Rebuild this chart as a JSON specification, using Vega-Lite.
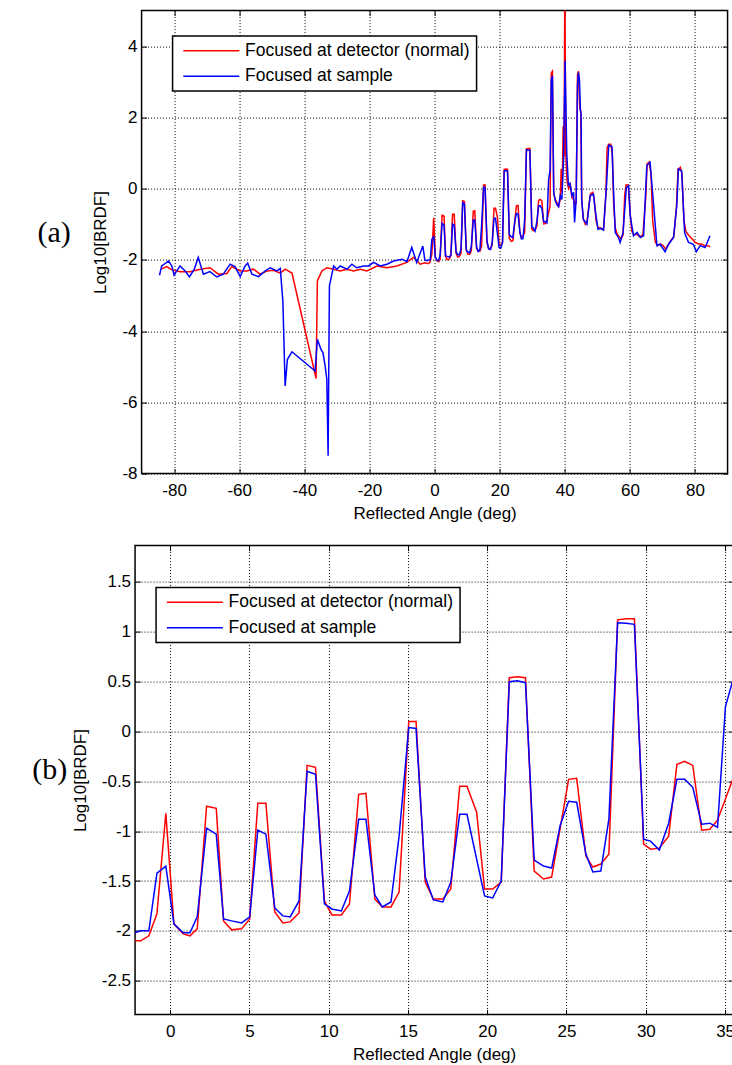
{
  "$schema": "https://vega.github.io/schema/vega-lite/v6.json",
  "background": "white",
  "padding": {"left": 30.7, "top": 8.6, "right": 0, "bottom": 0},
  "spacing": 20,
  "center": true,
  "datasets": {
    "brdf": [
      {"angle": -84.0, "value": -2.26, "series": "Focused at detector (normal)"},
      {"angle": -82.3, "value": -2.19, "series": "Focused at detector (normal)"},
      {"angle": -80.7, "value": -2.28, "series": "Focused at detector (normal)"},
      {"angle": -78.2, "value": -2.33, "series": "Focused at detector (normal)"},
      {"angle": -75.1, "value": -2.33, "series": "Focused at detector (normal)"},
      {"angle": -72.0, "value": -2.26, "series": "Focused at detector (normal)"},
      {"angle": -69.0, "value": -2.22, "series": "Focused at detector (normal)"},
      {"angle": -66.4, "value": -2.40, "series": "Focused at detector (normal)"},
      {"angle": -63.8, "value": -2.38, "series": "Focused at detector (normal)"},
      {"angle": -62.3, "value": -2.19, "series": "Focused at detector (normal)"},
      {"angle": -59.7, "value": -2.31, "series": "Focused at detector (normal)"},
      {"angle": -57.7, "value": -2.31, "series": "Focused at detector (normal)"},
      {"angle": -55.6, "value": -2.26, "series": "Focused at detector (normal)"},
      {"angle": -53.6, "value": -2.40, "series": "Focused at detector (normal)"},
      {"angle": -51.5, "value": -2.31, "series": "Focused at detector (normal)"},
      {"angle": -49.5, "value": -2.29, "series": "Focused at detector (normal)"},
      {"angle": -47.4, "value": -2.37, "series": "Focused at detector (normal)"},
      {"angle": -45.9, "value": -2.26, "series": "Focused at detector (normal)"},
      {"angle": -43.8, "value": -2.37, "series": "Focused at detector (normal)"},
      {"angle": -36.4, "value": -5.33, "series": "Focused at detector (normal)"},
      {"angle": -36.0, "value": -2.59, "series": "Focused at detector (normal)"},
      {"angle": -34.6, "value": -2.31, "series": "Focused at detector (normal)"},
      {"angle": -33.1, "value": -2.22, "series": "Focused at detector (normal)"},
      {"angle": -31.0, "value": -2.26, "series": "Focused at detector (normal)"},
      {"angle": -29.0, "value": -2.31, "series": "Focused at detector (normal)"},
      {"angle": -26.9, "value": -2.26, "series": "Focused at detector (normal)"},
      {"angle": -24.9, "value": -2.31, "series": "Focused at detector (normal)"},
      {"angle": -22.8, "value": -2.26, "series": "Focused at detector (normal)"},
      {"angle": -20.8, "value": -2.31, "series": "Focused at detector (normal)"},
      {"angle": -17.7, "value": -2.17, "series": "Focused at detector (normal)"},
      {"angle": -14.6, "value": -2.22, "series": "Focused at detector (normal)"},
      {"angle": -11.6, "value": -2.17, "series": "Focused at detector (normal)"},
      {"angle": -8.5, "value": -2.07, "series": "Focused at detector (normal)"},
      {"angle": -6.5, "value": -1.93, "series": "Focused at detector (normal)"},
      {"angle": -4.4, "value": -2.12, "series": "Focused at detector (normal)"},
      {"angle": -3.0, "value": -2.08, "series": "Focused at detector (normal)"},
      {"angle": -2.23, "value": -2.1, "series": "Focused at detector (normal)"},
      {"angle": -1.85, "value": -2.1, "series": "Focused at detector (normal)"},
      {"angle": -1.34, "value": -2.05, "series": "Focused at detector (normal)"},
      {"angle": -0.83, "value": -1.83, "series": "Focused at detector (normal)"},
      {"angle": -0.27, "value": -0.82, "series": "Focused at detector (normal)"},
      {"angle": 0.24, "value": -1.93, "series": "Focused at detector (normal)"},
      {"angle": 0.82, "value": -2.03, "series": "Focused at detector (normal)"},
      {"angle": 1.25, "value": -2.05, "series": "Focused at detector (normal)"},
      {"angle": 1.71, "value": -1.98, "series": "Focused at detector (normal)"},
      {"angle": 2.3, "value": -0.75, "series": "Focused at detector (normal)"},
      {"angle": 2.91, "value": -0.77, "series": "Focused at detector (normal)"},
      {"angle": 3.37, "value": -1.9, "series": "Focused at detector (normal)"},
      {"angle": 3.88, "value": -1.99, "series": "Focused at detector (normal)"},
      {"angle": 4.51, "value": -1.98, "series": "Focused at detector (normal)"},
      {"angle": 5.02, "value": -1.88, "series": "Focused at detector (normal)"},
      {"angle": 5.53, "value": -0.72, "series": "Focused at detector (normal)"},
      {"angle": 6.04, "value": -0.72, "series": "Focused at detector (normal)"},
      {"angle": 6.6, "value": -1.81, "series": "Focused at detector (normal)"},
      {"angle": 7.11, "value": -1.92, "series": "Focused at detector (normal)"},
      {"angle": 7.57, "value": -1.91, "series": "Focused at detector (normal)"},
      {"angle": 8.13, "value": -1.82, "series": "Focused at detector (normal)"},
      {"angle": 8.64, "value": -0.34, "series": "Focused at detector (normal)"},
      {"angle": 9.17, "value": -0.36, "series": "Focused at detector (normal)"},
      {"angle": 9.73, "value": -1.7, "series": "Focused at detector (normal)"},
      {"angle": 10.2, "value": -1.84, "series": "Focused at detector (normal)"},
      {"angle": 10.8, "value": -1.84, "series": "Focused at detector (normal)"},
      {"angle": 11.31, "value": -1.73, "series": "Focused at detector (normal)"},
      {"angle": 11.89, "value": -0.63, "series": "Focused at detector (normal)"},
      {"angle": 12.35, "value": -0.62, "series": "Focused at detector (normal)"},
      {"angle": 12.91, "value": -1.68, "series": "Focused at detector (normal)"},
      {"angle": 13.38, "value": -1.76, "series": "Focused at detector (normal)"},
      {"angle": 13.93, "value": -1.76, "series": "Focused at detector (normal)"},
      {"angle": 14.44, "value": -1.61, "series": "Focused at detector (normal)"},
      {"angle": 15.05, "value": 0.1, "series": "Focused at detector (normal)"},
      {"angle": 15.51, "value": 0.1, "series": "Focused at detector (normal)"},
      {"angle": 16.09, "value": -1.51, "series": "Focused at detector (normal)"},
      {"angle": 16.6, "value": -1.68, "series": "Focused at detector (normal)"},
      {"angle": 17.2, "value": -1.68, "series": "Focused at detector (normal)"},
      {"angle": 17.7, "value": -1.58, "series": "Focused at detector (normal)"},
      {"angle": 18.26, "value": -0.55, "series": "Focused at detector (normal)"},
      {"angle": 18.72, "value": -0.55, "series": "Focused at detector (normal)"},
      {"angle": 19.33, "value": -0.81, "series": "Focused at detector (normal)"},
      {"angle": 19.83, "value": -1.58, "series": "Focused at detector (normal)"},
      {"angle": 20.34, "value": -1.58, "series": "Focused at detector (normal)"},
      {"angle": 20.88, "value": -1.51, "series": "Focused at detector (normal)"},
      {"angle": 21.39, "value": 0.54, "series": "Focused at detector (normal)"},
      {"angle": 21.9, "value": 0.55, "series": "Focused at detector (normal)"},
      {"angle": 22.41, "value": 0.54, "series": "Focused at detector (normal)"},
      {"angle": 22.96, "value": -1.4, "series": "Focused at detector (normal)"},
      {"angle": 23.55, "value": -1.48, "series": "Focused at detector (normal)"},
      {"angle": 24.06, "value": -1.46, "series": "Focused at detector (normal)"},
      {"angle": 24.6, "value": -0.97, "series": "Focused at detector (normal)"},
      {"angle": 25.13, "value": -0.48, "series": "Focused at detector (normal)"},
      {"angle": 25.64, "value": -0.47, "series": "Focused at detector (normal)"},
      {"angle": 26.22, "value": -1.25, "series": "Focused at detector (normal)"},
      {"angle": 26.66, "value": -1.36, "series": "Focused at detector (normal)"},
      {"angle": 27.16, "value": -1.33, "series": "Focused at detector (normal)"},
      {"angle": 27.67, "value": -1.23, "series": "Focused at detector (normal)"},
      {"angle": 28.22, "value": 1.12, "series": "Focused at detector (normal)"},
      {"angle": 28.75, "value": 1.13, "series": "Focused at detector (normal)"},
      {"angle": 29.28, "value": 1.13, "series": "Focused at detector (normal)"},
      {"angle": 29.86, "value": -1.13, "series": "Focused at detector (normal)"},
      {"angle": 30.3, "value": -1.18, "series": "Focused at detector (normal)"},
      {"angle": 30.85, "value": -1.17, "series": "Focused at detector (normal)"},
      {"angle": 31.44, "value": -1.05, "series": "Focused at detector (normal)"},
      {"angle": 31.96, "value": -0.33, "series": "Focused at detector (normal)"},
      {"angle": 32.45, "value": -0.3, "series": "Focused at detector (normal)"},
      {"angle": 32.96, "value": -0.34, "series": "Focused at detector (normal)"},
      {"angle": 33.52, "value": -0.99, "series": "Focused at detector (normal)"},
      {"angle": 34.03, "value": -0.98, "series": "Focused at detector (normal)"},
      {"angle": 34.52, "value": -0.89, "series": "Focused at detector (normal)"},
      {"angle": 35.48, "value": -0.48, "series": "Focused at detector (normal)"},
      {"angle": 35.85, "value": 3.25, "series": "Focused at detector (normal)"},
      {"angle": 36.2, "value": 3.3, "series": "Focused at detector (normal)"},
      {"angle": 36.6, "value": -0.15, "series": "Focused at detector (normal)"},
      {"angle": 37.1, "value": -0.3, "series": "Focused at detector (normal)"},
      {"angle": 37.6, "value": -0.4, "series": "Focused at detector (normal)"},
      {"angle": 38.1, "value": -0.5, "series": "Focused at detector (normal)"},
      {"angle": 38.6, "value": -0.3, "series": "Focused at detector (normal)"},
      {"angle": 38.9, "value": 0.55, "series": "Focused at detector (normal)"},
      {"angle": 39.2, "value": -0.1, "series": "Focused at detector (normal)"},
      {"angle": 39.5, "value": 1.75, "series": "Focused at detector (normal)"},
      {"angle": 39.8, "value": 0.9, "series": "Focused at detector (normal)"},
      {"angle": 40.0, "value": 6.0, "series": "Focused at detector (normal)"},
      {"angle": 40.3, "value": 1.0, "series": "Focused at detector (normal)"},
      {"angle": 40.7, "value": 0.2, "series": "Focused at detector (normal)"},
      {"angle": 41.2, "value": 0.0, "series": "Focused at detector (normal)"},
      {"angle": 41.7, "value": 0.1, "series": "Focused at detector (normal)"},
      {"angle": 42.2, "value": -0.25, "series": "Focused at detector (normal)"},
      {"angle": 42.7, "value": -0.3, "series": "Focused at detector (normal)"},
      {"angle": 43.1, "value": -0.45, "series": "Focused at detector (normal)"},
      {"angle": 43.5, "value": -0.4, "series": "Focused at detector (normal)"},
      {"angle": 43.9, "value": 3.2, "series": "Focused at detector (normal)"},
      {"angle": 44.2, "value": 3.3, "series": "Focused at detector (normal)"},
      {"angle": 44.6, "value": 2.25, "series": "Focused at detector (normal)"},
      {"angle": 44.9, "value": 2.2, "series": "Focused at detector (normal)"},
      {"angle": 45.2, "value": -0.35, "series": "Focused at detector (normal)"},
      {"angle": 45.7, "value": -0.85, "series": "Focused at detector (normal)"},
      {"angle": 46.3, "value": -1.0, "series": "Focused at detector (normal)"},
      {"angle": 46.8, "value": -0.95, "series": "Focused at detector (normal)"},
      {"angle": 47.5, "value": -0.4, "series": "Focused at detector (normal)"},
      {"angle": 47.9, "value": -0.15, "series": "Focused at detector (normal)"},
      {"angle": 48.6, "value": -0.1, "series": "Focused at detector (normal)"},
      {"angle": 49.1, "value": -0.35, "series": "Focused at detector (normal)"},
      {"angle": 49.6, "value": -0.9, "series": "Focused at detector (normal)"},
      {"angle": 50.2, "value": -1.1, "series": "Focused at detector (normal)"},
      {"angle": 51.0, "value": -1.1, "series": "Focused at detector (normal)"},
      {"angle": 51.9, "value": -1.15, "series": "Focused at detector (normal)"},
      {"angle": 52.6, "value": -0.2, "series": "Focused at detector (normal)"},
      {"angle": 53.0, "value": 1.15, "series": "Focused at detector (normal)"},
      {"angle": 53.5, "value": 1.25, "series": "Focused at detector (normal)"},
      {"angle": 54.1, "value": 1.25, "series": "Focused at detector (normal)"},
      {"angle": 54.6, "value": 1.0, "series": "Focused at detector (normal)"},
      {"angle": 55.0, "value": -0.4, "series": "Focused at detector (normal)"},
      {"angle": 55.5, "value": -1.1, "series": "Focused at detector (normal)"},
      {"angle": 56.2, "value": -1.3, "series": "Focused at detector (normal)"},
      {"angle": 56.7, "value": -1.35, "series": "Focused at detector (normal)"},
      {"angle": 57.3, "value": -1.4, "series": "Focused at detector (normal)"},
      {"angle": 57.9, "value": -1.3, "series": "Focused at detector (normal)"},
      {"angle": 58.4, "value": -0.2, "series": "Focused at detector (normal)"},
      {"angle": 58.8, "value": 0.1, "series": "Focused at detector (normal)"},
      {"angle": 59.5, "value": 0.1, "series": "Focused at detector (normal)"},
      {"angle": 60.0, "value": -0.6, "series": "Focused at detector (normal)"},
      {"angle": 60.6, "value": -1.2, "series": "Focused at detector (normal)"},
      {"angle": 61.3, "value": -1.3, "series": "Focused at detector (normal)"},
      {"angle": 62.2, "value": -1.28, "series": "Focused at detector (normal)"},
      {"angle": 63.0, "value": -1.35, "series": "Focused at detector (normal)"},
      {"angle": 64.0, "value": -1.3, "series": "Focused at detector (normal)"},
      {"angle": 64.9, "value": -0.2, "series": "Focused at detector (normal)"},
      {"angle": 65.3, "value": 0.7, "series": "Focused at detector (normal)"},
      {"angle": 65.9, "value": 0.75, "series": "Focused at detector (normal)"},
      {"angle": 66.5, "value": 0.4, "series": "Focused at detector (normal)"},
      {"angle": 67.0, "value": -0.9, "series": "Focused at detector (normal)"},
      {"angle": 67.8, "value": -1.5, "series": "Focused at detector (normal)"},
      {"angle": 68.5, "value": -1.6, "series": "Focused at detector (normal)"},
      {"angle": 69.3, "value": -1.55, "series": "Focused at detector (normal)"},
      {"angle": 70.2, "value": -1.6, "series": "Focused at detector (normal)"},
      {"angle": 71.0, "value": -1.7, "series": "Focused at detector (normal)"},
      {"angle": 71.9, "value": -1.55, "series": "Focused at detector (normal)"},
      {"angle": 72.6, "value": -1.45, "series": "Focused at detector (normal)"},
      {"angle": 73.5, "value": -1.35, "series": "Focused at detector (normal)"},
      {"angle": 74.3, "value": -0.5, "series": "Focused at detector (normal)"},
      {"angle": 74.8, "value": 0.55, "series": "Focused at detector (normal)"},
      {"angle": 75.5, "value": 0.6, "series": "Focused at detector (normal)"},
      {"angle": 76.0, "value": 0.4, "series": "Focused at detector (normal)"},
      {"angle": 76.6, "value": -0.9, "series": "Focused at detector (normal)"},
      {"angle": 77.2, "value": -1.2, "series": "Focused at detector (normal)"},
      {"angle": 78.0, "value": -1.3, "series": "Focused at detector (normal)"},
      {"angle": 79.0, "value": -1.4, "series": "Focused at detector (normal)"},
      {"angle": 80.0, "value": -1.5, "series": "Focused at detector (normal)"},
      {"angle": 81.0, "value": -1.55, "series": "Focused at detector (normal)"},
      {"angle": 82.0, "value": -1.55, "series": "Focused at detector (normal)"},
      {"angle": 83.0, "value": -1.6, "series": "Focused at detector (normal)"},
      {"angle": 84.0, "value": -1.6, "series": "Focused at detector (normal)"},
      {"angle": 84.6, "value": -1.63, "series": "Focused at detector (normal)"},

      {"angle": -84.5, "value": -2.43, "series": "Focused at sample"},
      {"angle": -83.8, "value": -2.17, "series": "Focused at sample"},
      {"angle": -81.7, "value": -2.03, "series": "Focused at sample"},
      {"angle": -80.7, "value": -2.17, "series": "Focused at sample"},
      {"angle": -80.0, "value": -2.43, "series": "Focused at sample"},
      {"angle": -78.2, "value": -2.17, "series": "Focused at sample"},
      {"angle": -76.6, "value": -2.31, "series": "Focused at sample"},
      {"angle": -75.3, "value": -2.48, "series": "Focused at sample"},
      {"angle": -73.8, "value": -2.26, "series": "Focused at sample"},
      {"angle": -72.6, "value": -1.93, "series": "Focused at sample"},
      {"angle": -71.0, "value": -2.40, "series": "Focused at sample"},
      {"angle": -69.0, "value": -2.33, "series": "Focused at sample"},
      {"angle": -66.9, "value": -2.48, "series": "Focused at sample"},
      {"angle": -64.9, "value": -2.40, "series": "Focused at sample"},
      {"angle": -62.8, "value": -2.12, "series": "Focused at sample"},
      {"angle": -61.3, "value": -2.19, "series": "Focused at sample"},
      {"angle": -59.7, "value": -2.47, "series": "Focused at sample"},
      {"angle": -58.2, "value": -2.17, "series": "Focused at sample"},
      {"angle": -57.4, "value": -2.09, "series": "Focused at sample"},
      {"angle": -56.1, "value": -2.40, "series": "Focused at sample"},
      {"angle": -54.1, "value": -2.47, "series": "Focused at sample"},
      {"angle": -52.0, "value": -2.31, "series": "Focused at sample"},
      {"angle": -50.5, "value": -2.22, "series": "Focused at sample"},
      {"angle": -48.4, "value": -2.31, "series": "Focused at sample"},
      {"angle": -47.4, "value": -2.24, "series": "Focused at sample"},
      {"angle": -46.6, "value": -3.15, "series": "Focused at sample"},
      {"angle": -45.9, "value": -5.54, "series": "Focused at sample"},
      {"angle": -45.2, "value": -4.79, "series": "Focused at sample"},
      {"angle": -43.8, "value": -4.58, "series": "Focused at sample"},
      {"angle": -36.7, "value": -5.12, "series": "Focused at sample"},
      {"angle": -36.0, "value": -4.23, "series": "Focused at sample"},
      {"angle": -34.9, "value": -4.51, "series": "Focused at sample"},
      {"angle": -34.3, "value": -4.60, "series": "Focused at sample"},
      {"angle": -33.6, "value": -4.98, "series": "Focused at sample"},
      {"angle": -33.1, "value": -5.35, "series": "Focused at sample"},
      {"angle": -32.7, "value": -7.50, "series": "Focused at sample"},
      {"angle": -32.3, "value": -2.73, "series": "Focused at sample"},
      {"angle": -31.0, "value": -2.17, "series": "Focused at sample"},
      {"angle": -30.0, "value": -2.26, "series": "Focused at sample"},
      {"angle": -29.0, "value": -2.17, "series": "Focused at sample"},
      {"angle": -26.9, "value": -2.26, "series": "Focused at sample"},
      {"angle": -25.4, "value": -2.12, "series": "Focused at sample"},
      {"angle": -23.9, "value": -2.22, "series": "Focused at sample"},
      {"angle": -21.8, "value": -2.17, "series": "Focused at sample"},
      {"angle": -20.3, "value": -2.17, "series": "Focused at sample"},
      {"angle": -18.7, "value": -2.07, "series": "Focused at sample"},
      {"angle": -16.7, "value": -2.17, "series": "Focused at sample"},
      {"angle": -14.6, "value": -2.12, "series": "Focused at sample"},
      {"angle": -12.6, "value": -2.03, "series": "Focused at sample"},
      {"angle": -10.0, "value": -1.98, "series": "Focused at sample"},
      {"angle": -8.5, "value": -2.05, "series": "Focused at sample"},
      {"angle": -7.0, "value": -1.65, "series": "Focused at sample"},
      {"angle": -5.5, "value": -2.07, "series": "Focused at sample"},
      {"angle": -3.6, "value": -1.61, "series": "Focused at sample"},
      {"angle": -3.0, "value": -2.0, "series": "Focused at sample"},
      {"angle": -2.23, "value": -2.02, "series": "Focused at sample"},
      {"angle": -1.85, "value": -2.0, "series": "Focused at sample"},
      {"angle": -1.34, "value": -2.0, "series": "Focused at sample"},
      {"angle": -0.83, "value": -1.42, "series": "Focused at sample"},
      {"angle": -0.27, "value": -1.35, "series": "Focused at sample"},
      {"angle": 0.24, "value": -1.93, "series": "Focused at sample"},
      {"angle": 0.82, "value": -2.02, "series": "Focused at sample"},
      {"angle": 1.25, "value": -2.02, "series": "Focused at sample"},
      {"angle": 1.71, "value": -1.86, "series": "Focused at sample"},
      {"angle": 2.3, "value": -0.97, "series": "Focused at sample"},
      {"angle": 2.91, "value": -1.03, "series": "Focused at sample"},
      {"angle": 3.37, "value": -1.88, "series": "Focused at sample"},
      {"angle": 3.88, "value": -1.9, "series": "Focused at sample"},
      {"angle": 4.51, "value": -1.92, "series": "Focused at sample"},
      {"angle": 5.02, "value": -1.86, "series": "Focused at sample"},
      {"angle": 5.53, "value": -0.99, "series": "Focused at sample"},
      {"angle": 6.04, "value": -1.03, "series": "Focused at sample"},
      {"angle": 6.6, "value": -1.77, "series": "Focused at sample"},
      {"angle": 7.11, "value": -1.85, "series": "Focused at sample"},
      {"angle": 7.57, "value": -1.86, "series": "Focused at sample"},
      {"angle": 8.13, "value": -1.7, "series": "Focused at sample"},
      {"angle": 8.64, "value": -0.4, "series": "Focused at sample"},
      {"angle": 9.17, "value": -0.43, "series": "Focused at sample"},
      {"angle": 9.73, "value": -1.73, "series": "Focused at sample"},
      {"angle": 10.2, "value": -1.78, "series": "Focused at sample"},
      {"angle": 10.8, "value": -1.8, "series": "Focused at sample"},
      {"angle": 11.31, "value": -1.6, "series": "Focused at sample"},
      {"angle": 11.89, "value": -0.88, "series": "Focused at sample"},
      {"angle": 12.35, "value": -0.88, "series": "Focused at sample"},
      {"angle": 12.91, "value": -1.64, "series": "Focused at sample"},
      {"angle": 13.38, "value": -1.76, "series": "Focused at sample"},
      {"angle": 13.93, "value": -1.71, "series": "Focused at sample"},
      {"angle": 14.44, "value": -1.05, "series": "Focused at sample"},
      {"angle": 15.05, "value": 0.04, "series": "Focused at sample"},
      {"angle": 15.51, "value": 0.03, "series": "Focused at sample"},
      {"angle": 16.09, "value": -1.46, "series": "Focused at sample"},
      {"angle": 16.6, "value": -1.69, "series": "Focused at sample"},
      {"angle": 17.2, "value": -1.71, "series": "Focused at sample"},
      {"angle": 17.7, "value": -1.51, "series": "Focused at sample"},
      {"angle": 18.26, "value": -0.83, "series": "Focused at sample"},
      {"angle": 18.72, "value": -0.83, "series": "Focused at sample"},
      {"angle": 19.83, "value": -1.65, "series": "Focused at sample"},
      {"angle": 20.34, "value": -1.67, "series": "Focused at sample"},
      {"angle": 20.88, "value": -1.5, "series": "Focused at sample"},
      {"angle": 21.39, "value": 0.5, "series": "Focused at sample"},
      {"angle": 21.9, "value": 0.51, "series": "Focused at sample"},
      {"angle": 22.41, "value": 0.49, "series": "Focused at sample"},
      {"angle": 22.96, "value": -1.29, "series": "Focused at sample"},
      {"angle": 23.55, "value": -1.35, "series": "Focused at sample"},
      {"angle": 24.06, "value": -1.37, "series": "Focused at sample"},
      {"angle": 24.6, "value": -0.94, "series": "Focused at sample"},
      {"angle": 25.13, "value": -0.7, "series": "Focused at sample"},
      {"angle": 25.64, "value": -0.71, "series": "Focused at sample"},
      {"angle": 26.22, "value": -1.23, "series": "Focused at sample"},
      {"angle": 26.66, "value": -1.41, "series": "Focused at sample"},
      {"angle": 27.16, "value": -1.4, "series": "Focused at sample"},
      {"angle": 27.67, "value": -0.88, "series": "Focused at sample"},
      {"angle": 28.22, "value": 1.09, "series": "Focused at sample"},
      {"angle": 28.75, "value": 1.085, "series": "Focused at sample"},
      {"angle": 29.28, "value": 1.075, "series": "Focused at sample"},
      {"angle": 29.86, "value": -1.08, "series": "Focused at sample"},
      {"angle": 30.3, "value": -1.1, "series": "Focused at sample"},
      {"angle": 30.85, "value": -1.19, "series": "Focused at sample"},
      {"angle": 31.44, "value": -0.92, "series": "Focused at sample"},
      {"angle": 31.96, "value": -0.48, "series": "Focused at sample"},
      {"angle": 32.45, "value": -0.48, "series": "Focused at sample"},
      {"angle": 32.96, "value": -0.56, "series": "Focused at sample"},
      {"angle": 33.52, "value": -0.93, "series": "Focused at sample"},
      {"angle": 34.03, "value": -0.92, "series": "Focused at sample"},
      {"angle": 34.52, "value": -0.96, "series": "Focused at sample"},
      {"angle": 35.02, "value": 0.25, "series": "Focused at sample"},
      {"angle": 35.48, "value": 0.51, "series": "Focused at sample"},
      {"angle": 35.85, "value": 3.05, "series": "Focused at sample"},
      {"angle": 36.2, "value": 3.17, "series": "Focused at sample"},
      {"angle": 36.6, "value": -0.1, "series": "Focused at sample"},
      {"angle": 37.1, "value": -0.35, "series": "Focused at sample"},
      {"angle": 37.6, "value": -0.45, "series": "Focused at sample"},
      {"angle": 38.1, "value": -0.5, "series": "Focused at sample"},
      {"angle": 38.6, "value": -0.2, "series": "Focused at sample"},
      {"angle": 39.1, "value": -0.3, "series": "Focused at sample"},
      {"angle": 39.6, "value": 0.8, "series": "Focused at sample"},
      {"angle": 40.1, "value": 3.59, "series": "Focused at sample"},
      {"angle": 40.6, "value": 1.0, "series": "Focused at sample"},
      {"angle": 41.1, "value": 0.1, "series": "Focused at sample"},
      {"angle": 41.6, "value": 0.15, "series": "Focused at sample"},
      {"angle": 42.2, "value": -0.2, "series": "Focused at sample"},
      {"angle": 42.7, "value": -0.1, "series": "Focused at sample"},
      {"angle": 43.0, "value": -0.95, "series": "Focused at sample"},
      {"angle": 43.5, "value": -0.3, "series": "Focused at sample"},
      {"angle": 43.9, "value": 2.9, "series": "Focused at sample"},
      {"angle": 44.2, "value": 3.26, "series": "Focused at sample"},
      {"angle": 44.5, "value": 3.07, "series": "Focused at sample"},
      {"angle": 44.8, "value": 2.2, "series": "Focused at sample"},
      {"angle": 45.0, "value": 2.1, "series": "Focused at sample"},
      {"angle": 45.2, "value": -0.3, "series": "Focused at sample"},
      {"angle": 45.7, "value": -0.86, "series": "Focused at sample"},
      {"angle": 46.8, "value": -1.0, "series": "Focused at sample"},
      {"angle": 47.8, "value": -0.2, "series": "Focused at sample"},
      {"angle": 48.8, "value": -0.15, "series": "Focused at sample"},
      {"angle": 49.3, "value": -0.57, "series": "Focused at sample"},
      {"angle": 50.2, "value": -1.14, "series": "Focused at sample"},
      {"angle": 51.0, "value": -1.12, "series": "Focused at sample"},
      {"angle": 51.9, "value": -1.16, "series": "Focused at sample"},
      {"angle": 52.8, "value": 0.08, "series": "Focused at sample"},
      {"angle": 53.5, "value": 1.22, "series": "Focused at sample"},
      {"angle": 54.5, "value": 1.18, "series": "Focused at sample"},
      {"angle": 55.0, "value": -0.11, "series": "Focused at sample"},
      {"angle": 55.5, "value": -1.23, "series": "Focused at sample"},
      {"angle": 56.5, "value": -1.37, "series": "Focused at sample"},
      {"angle": 57.0, "value": -1.51, "series": "Focused at sample"},
      {"angle": 57.9, "value": -1.23, "series": "Focused at sample"},
      {"angle": 58.9, "value": 0.03, "series": "Focused at sample"},
      {"angle": 59.6, "value": 0.08, "series": "Focused at sample"},
      {"angle": 60.1, "value": -0.76, "series": "Focused at sample"},
      {"angle": 61.1, "value": -1.32, "series": "Focused at sample"},
      {"angle": 62.2, "value": -1.23, "series": "Focused at sample"},
      {"angle": 63.2, "value": -1.37, "series": "Focused at sample"},
      {"angle": 64.2, "value": -1.32, "series": "Focused at sample"},
      {"angle": 65.2, "value": 0.65, "series": "Focused at sample"},
      {"angle": 66.2, "value": 0.74, "series": "Focused at sample"},
      {"angle": 67.3, "value": -0.48, "series": "Focused at sample"},
      {"angle": 68.3, "value": -1.6, "series": "Focused at sample"},
      {"angle": 69.3, "value": -1.56, "series": "Focused at sample"},
      {"angle": 70.8, "value": -1.77, "series": "Focused at sample"},
      {"angle": 71.9, "value": -1.56, "series": "Focused at sample"},
      {"angle": 73.4, "value": -1.37, "series": "Focused at sample"},
      {"angle": 74.4, "value": -0.48, "series": "Focused at sample"},
      {"angle": 74.9, "value": 0.55, "series": "Focused at sample"},
      {"angle": 75.9, "value": 0.5, "series": "Focused at sample"},
      {"angle": 76.8, "value": -1.23, "series": "Focused at sample"},
      {"angle": 78.0, "value": -1.51, "series": "Focused at sample"},
      {"angle": 79.5, "value": -1.56, "series": "Focused at sample"},
      {"angle": 80.4, "value": -1.77, "series": "Focused at sample"},
      {"angle": 81.6, "value": -1.6, "series": "Focused at sample"},
      {"angle": 83.1, "value": -1.65, "series": "Focused at sample"},
      {"angle": 84.6, "value": -1.32, "series": "Focused at sample"}
    ]
  },
  "vconcat": [
    {
      "title": {"text": "(a)", "orient": "left", "angle": 0, "align": "right", "baseline": "middle", "anchor": "middle", "offset": -12.2, "dy": -9, "font": "Liberation Serif", "fontSize": 30, "fontWeight": "normal", "color": "#000"},
      "width": 586,
      "height": 463,
      "data": {"name": "brdf"},
      "layer": [
        {
          "mark": {"type": "line", "strokeWidth": 1.5, "clip": true},
          "encoding": {
            "x": {"field": "angle", "type": "quantitative", "scale": {"domain": [-90, 90], "nice": false, "zero": false},
                  "axis": {"values": [-80, -60, -40, -20, 0, 20, 40, 60, 80], "title": "Reflected Angle (deg)", "format": "d"}},
            "y": {"field": "value", "type": "quantitative", "scale": {"domain": [-8, 5], "nice": false, "zero": false},
                  "axis": {"values": [-8, -6, -4, -2, 0, 2, 4], "title": "Log10[BRDF]", "format": "d"}},
            "color": {"field": "series", "type": "nominal",
                      "scale": {"domain": ["Focused at detector (normal)", "Focused at sample"], "range": ["#ff0000", "#0000ff"]},
                      "legend": {"title": null, "orient": "none", "legendX": 31, "legendY": 25.5}}
          }
        },
        {
          "mark": {"type": "point", "opacity": 0, "clip": true},
          "encoding": {
            "x": {"field": "angle", "type": "quantitative", "axis": {"orient": "top", "values": [-80, -60, -40, -20, 0, 20, 40, 60, 80], "labels": false, "grid": false, "title": null}},
            "y": {"field": "value", "type": "quantitative", "axis": {"orient": "right", "values": [-8, -6, -4, -2, 0, 2, 4], "labels": false, "grid": false, "title": null}}
          }
        }
      ],
      "resolve": {"axis": {"x": "independent", "y": "independent"}}
    },
    {
      "title": {"text": "(b)", "orient": "left", "angle": 0, "align": "right", "baseline": "middle", "anchor": "middle", "offset": -31, "dy": -10, "font": "Liberation Serif", "fontSize": 30, "fontWeight": "normal", "color": "#000"},
      "width": 598,
      "height": 469,
      "data": {"name": "brdf"},
      "layer": [
        {
          "mark": {"type": "line", "strokeWidth": 1.5, "clip": true},
          "encoding": {
            "x": {"field": "angle", "type": "quantitative", "scale": {"domain": [-2.21, 35.5], "nice": false, "zero": false},
                  "axis": {"values": [0, 5, 10, 15, 20, 25, 30, 35], "title": "Reflected Angle (deg)", "format": "d"}},
            "y": {"field": "value", "type": "quantitative", "scale": {"domain": [-2.84, 1.865], "nice": false, "zero": false},
                  "axis": {"values": [-2.5, -2, -1.5, -1, -0.5, 0, 0.5, 1, 1.5], "title": "Log10[BRDF]", "format": ".1~f"}},
            "color": {"field": "series", "type": "nominal",
                      "scale": {"domain": ["Focused at detector (normal)", "Focused at sample"], "range": ["#ff0000", "#0000ff"]},
                      "legend": {"title": null, "orient": "none", "legendX": 21, "legendY": 42}}
          }
        },
        {
          "mark": {"type": "point", "opacity": 0, "clip": true},
          "encoding": {
            "x": {"field": "angle", "type": "quantitative", "axis": {"orient": "top", "values": [0, 5, 10, 15, 20, 25, 30, 35], "labels": false, "grid": false, "title": null}},
            "y": {"field": "value", "type": "quantitative", "axis": {"orient": "right", "values": [-2.5, -2, -1.5, -1, -0.5, 0, 0.5, 1, 1.5], "labels": false, "grid": false, "title": null}}
          }
        }
      ],
      "resolve": {"axis": {"x": "independent", "y": "independent"}}
    }
  ],
  "resolve": {"scale": {"color": "independent"}, "legend": {"color": "independent"}},
  "config": {
    "locale": {"number": {"decimal": ".", "thousands": ",", "grouping": [3], "currency": ["$", ""], "minus": "-"}},
    "view": {"stroke": "#000", "strokeWidth": 1.5},
    "font": "Liberation Sans",
    "axis": {
      "labelFont": "Liberation Sans", "labelFontSize": 17, "labelColor": "#000", "labelFlush": false, "labelOverlap": false,
      "titleFont": "Liberation Sans", "titleFontSize": 17, "titleFontWeight": "normal", "titleColor": "#000",
      "domain": false, "grid": true, "gridColor": "#000", "gridDash": [1, 2], "gridOpacity": 1, "gridWidth": 1,
      "ticks": true, "tickColor": "#000", "tickSize": -5, "tickWidth": 1
    },
    "axisX": {"labelPadding": 14.4, "titlePadding": 7},
    "axisY": {"labelPadding": 9.5, "titlePadding": 12},
    "legend": {
      "labelFont": "Liberation Sans", "labelFontSize": 17.5, "labelColor": "#000", "labelLimit": 400,
      "symbolType": "M-1,0L7,0", "symbolSize": 196, "symbolStrokeWidth": 1.5, "symbolOffset": 3, "labelOffset": 46,
      "padding": 6, "rowPadding": 6.4, "strokeColor": "#000", "strokeWidth": 1.5, "fillColor": "#fff"
    }
  }
}
